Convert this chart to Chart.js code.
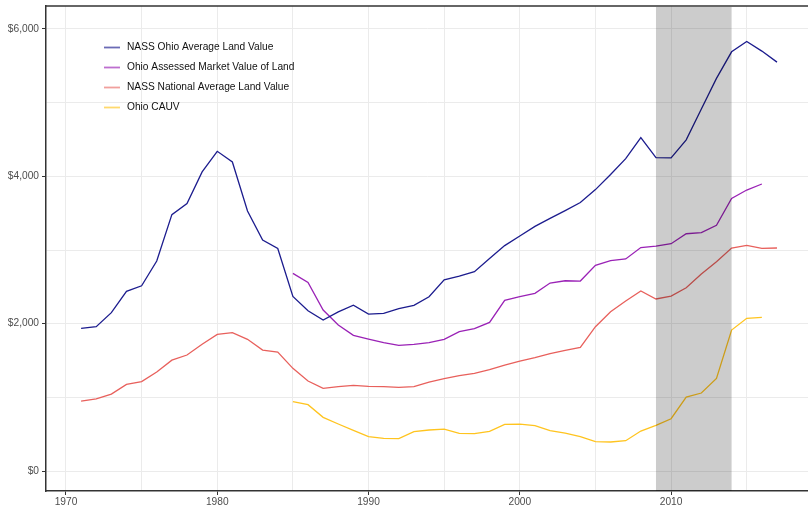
<!DOCTYPE html>
<html>
<head>
<meta charset="utf-8">
<script src="https://cdn.jsdelivr.net/npm/chart.js@4"></script>
<style>
  html, body { margin: 0; padding: 0; background: #ffffff; }
  #wrap { width: 808px; height: 508px; }
</style>
</head>
<body>
<div id="wrap"><canvas id="c" width="808" height="508"></canvas></div>
<script>
// ---- data ----
const yearsNational = [1971,1972,1973,1974,1975,1976,1977,1978,1979,1980,1981,1982,1983,1984,1985,1986,1987,1988,1989,1990,1991,1992,1993,1994,1995,1996,1997,1998,1999,2000,2001,2002,2003,2004,2005,2006,2007,2008,2009,2010,2011,2012,2013,2014,2015,2016,2017];
const yearsOhio = [1985,1986,1987,1988,1989,1990,1991,1992,1993,1994,1995,1996,1997,1998,1999,2000,2001,2002,2003,2004,2005,2006,2007,2008,2009,2010,2011,2012,2013,2014,2015,2016];

const nassOhio = [1935,1960,2150,2440,2515,2850,3480,3630,4060,4340,4195,3530,3135,3020,2370,2175,2050,2160,2250,2130,2140,2205,2250,2365,2595,2645,2705,2885,3060,3190,3320,3430,3535,3645,3820,4025,4240,4525,4255,4250,4495,4915,5330,5690,5830,5700,5550];
const ohioAssessed = [2683,2561,2185,1982,1842,1792,1742,1706,1720,1742,1788,1891,1932,2018,2317,2366,2412,2552,2583,2579,2792,2855,2878,3033,3054,3086,3221,3235,3335,3701,3814,3896];
const nassNational = [950,980,1045,1175,1215,1345,1505,1575,1720,1855,1878,1788,1642,1615,1394,1222,1122,1145,1163,1150,1145,1136,1145,1208,1253,1294,1326,1375,1439,1493,1538,1593,1638,1679,1959,2163,2308,2443,2335,2375,2488,2674,2841,3027,3063,3023,3027];
const ohioCAUV = [941,900,729,638,552,466,443,439,534,557,570,511,507,538,633,636,615,547,516,466,398,394,412,543,620,710,1004,1059,1258,1914,2073,2086];

const seriesNames = ["NASS Ohio Average Land Value","Ohio Assessed Market Value of Land","NASS National Average Land Value","Ohio CAUV"];
const recessionStart = [2009];
const recessionEnd = [2014];

const yTickValues = [0,1000,2000,3000,4000,5000,6000];
const yTickLabels = {0:"$0",2000:"$2,000",4000:"$4,000",6000:"$6,000"};
const xTickValues = [1970,1975,1980,1985,1990,1995,2000,2005,2010,2015];
const xTickLabels = {1970:"1970",1980:"1980",1990:"1990",2000:"2000",2010:"2010"};

// ---- styles ----
const colors = ["#1c1c8e","#9a22b6","#e8605c","#ffc41f"];
const legendColors = ["rgba(28,28,142,0.65)","rgba(154,34,182,0.65)","rgba(232,96,92,0.6)","rgba(255,196,31,0.65)"];
const FONT = "'Liberation Sans', Arial, Helvetica, sans-serif";
const FSIZE = 10.2;

function pts(xs, ys){ return xs.map((x,i)=>({x:x, y:ys[i]})); }

const dataSets = [
  {label: seriesNames[0], data: pts(yearsNational, nassOhio)},
  {label: seriesNames[1], data: pts(yearsOhio, ohioAssessed)},
  {label: seriesNames[2], data: pts(yearsNational, nassNational)},
  {label: seriesNames[3], data: pts(yearsOhio, ohioCAUV)}
].map((d,i)=>Object.assign(d,{
  borderColor: colors[i], backgroundColor: colors[i], borderWidth: 1.3,
  pointRadius: 0, pointHoverRadius: 0, tension: 0, fill: false
}));

const overlayPlugin = {
  id: 'overlay',
  afterDatasetsDraw(chart){
    const {ctx, chartArea, scales} = chart;
    ctx.save();
    // recession shading
    ctx.fillStyle = 'rgba(0,0,0,0.2)';
    recessionStart.forEach((s,i)=>{
      const x0 = scales.x.getPixelForValue(s);
      const x1 = scales.x.getPixelForValue(recessionEnd[i]);
      ctx.fillRect(x0, chartArea.top + 1, x1 - x0, chartArea.bottom - chartArea.top - 1);
    });
    // top border
    ctx.strokeStyle = '#333333';
    ctx.lineWidth = 1.5;
    ctx.beginPath();
    ctx.moveTo(chartArea.left, chartArea.top);
    ctx.lineTo(chartArea.right, chartArea.top);
    ctx.stroke();
    // legend
    ctx.font = FSIZE + 'px ' + FONT;
    ctx.textBaseline = 'middle';
    ctx.textAlign = 'left';
    seriesNames.forEach((name,i)=>{
      const y = 47.5 + i*20;
      ctx.strokeStyle = legendColors[i];
      ctx.lineWidth = 1.8;
      ctx.beginPath();
      ctx.moveTo(104, y);
      ctx.lineTo(120, y);
      ctx.stroke();
      ctx.fillStyle = '#111111';
      ctx.fillText(name, 127, y);
    });
    ctx.restore();
  }
};

new Chart(document.getElementById('c'), {
  type: 'line',
  data: { datasets: dataSets },
  options: {
    responsive: false,
    animation: false,
    events: [],
    layout: { padding: { top: 6, right: 0, left: 0, bottom: 0 } },
    plugins: { legend: { display: false }, tooltip: { enabled: false } },
    scales: {
      x: {
        type: 'linear',
        min: 1968.68,
        max: 2019.05,
        afterBuildTicks(scale){ scale.ticks = xTickValues.map(v=>({value:v})); },
        afterFit(scale){ scale.height = 17; scale.paddingLeft = 0; scale.paddingRight = 0; },
        ticks: {
          autoSkip: false, maxRotation: 0, padding: 1,
          color: '#4d4d4d', font: { family: FONT, size: FSIZE },
          callback: (v)=> xTickLabels[v] || ''
        },
        grid: {
          color: '#ebebeb', lineWidth: 1, drawTicks: true, tickLength: 4,
          tickColor: (ctx)=> (ctx.tick && xTickLabels[ctx.tick.value]) ? '#333333' : 'rgba(0,0,0,0)',
          tickWidth: 1
        },
        border: { display: true, color: '#333333', width: 1.5 }
      },
      y: {
        type: 'linear',
        min: -271,
        max: 6312,
        afterBuildTicks(scale){ scale.ticks = yTickValues.map(v=>({value:v})); },
        afterFit(scale){ scale.width = 46; scale.paddingTop = 0; scale.paddingBottom = 0; },
        ticks: {
          autoSkip: false, padding: 3,
          color: '#4d4d4d', font: { family: FONT, size: FSIZE },
          callback: (v)=> yTickLabels[v] || ''
        },
        grid: {
          color: '#ebebeb', lineWidth: 1, drawTicks: true, tickLength: 4,
          tickColor: (ctx)=> (ctx.tick && yTickLabels[ctx.tick.value]) ? '#333333' : 'rgba(0,0,0,0)',
          tickWidth: 1
        },
        border: { display: true, color: '#333333', width: 1.5 }
      }
    }
  },
  plugins: [overlayPlugin]
});
</script>
</body>
</html>
